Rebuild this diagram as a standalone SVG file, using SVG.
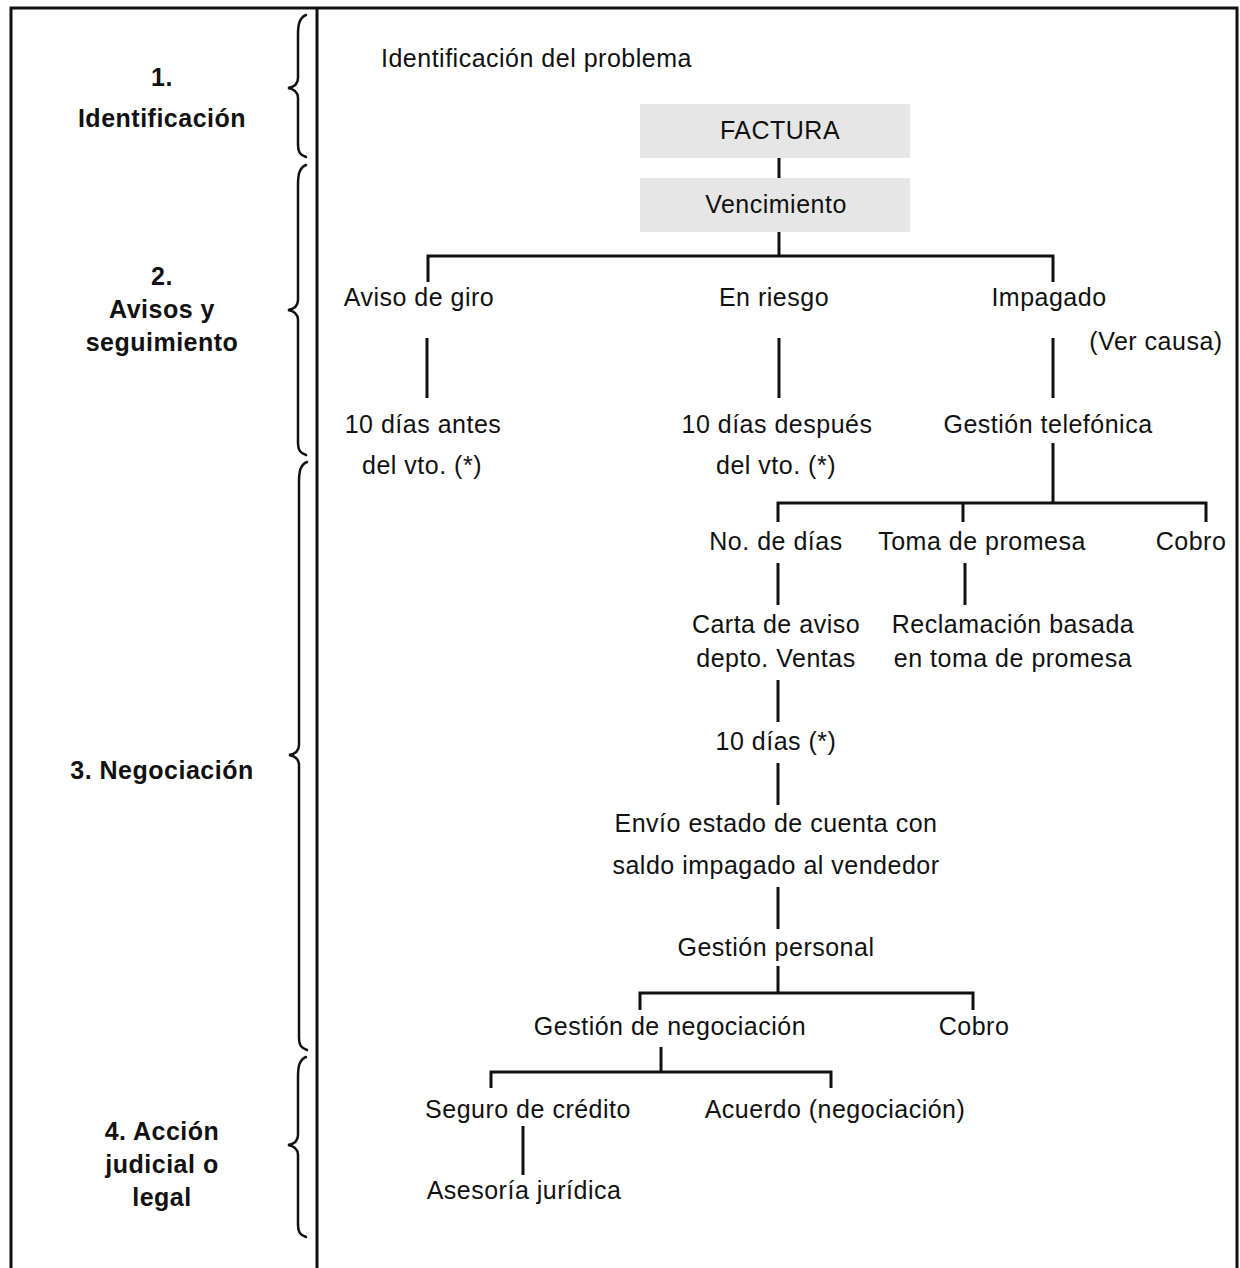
<svg xmlns="http://www.w3.org/2000/svg" width="1240" height="1268" viewBox="0 0 1240 1268">
<style>
.t{font-family:"Liberation Sans",Arial,sans-serif;font-size:25px;letter-spacing:0.5px;fill:#111;text-anchor:middle}
.b{font-family:"Liberation Sans",Arial,sans-serif;font-size:25px;letter-spacing:0.5px;font-weight:bold;fill:#111;text-anchor:middle}
.ln{stroke:#111;stroke-width:3;fill:none}
.br{stroke:#111;stroke-width:2.5;fill:none;stroke-linecap:round}
.box{fill:#e6e6e6}
</style>
<rect width="1240" height="1268" fill="#fff"/>
<g id="frame">
<path class="ln" d="M11,1270 L11,8 L1237,8 L1237,1270"/>
<line class="ln" x1="317" y1="8" x2="317" y2="1270"/>
</g>
<g id="braces">
<path class="br" d="M306,15 C299,18 298,25 298,35 L298,78 C298,84 294,87 288,88 C294,89 298,92 298,98 L298,145 C298,152 300,155 306,157"/>
<path class="br" d="M306,165 C299,168 298,175 298,185 L298,300 C298,306 294,309 288,310 C294,311 298,314 298,320 L298,443 C298,450 300,453 306,455"/>
<path class="br" d="M307,462 C300,465 299,472 299,482 L299,745 C299,751 295,754 289,755 C295,756 299,759 299,765 L299,1038 C299,1045 301,1048 307,1050"/>
<path class="br" d="M306,1057 C299,1060 298,1067 298,1077 L298,1135 C298,1141 294,1144 288,1145 C294,1146 298,1149 298,1155 L298,1225 C298,1232 300,1235 306,1237"/>
</g>
<g id="stage1"><text class="b" x="162" y="86">1.</text><text class="b" x="162" y="127">Identificación</text></g>
<g id="stage2"><text class="b" x="162" y="285">2.</text><text class="b" x="162" y="318">Avisos y</text><text class="b" x="162" y="351">seguimiento</text></g>
<g id="stage3"><text class="b" x="162" y="779">3. Negociación</text></g>
<g id="stage4"><text class="b" x="162" y="1140">4. Acción</text><text class="b" x="162" y="1173">judicial o</text><text class="b" x="162" y="1206">legal</text></g>
<g id="title"><text class="t" x="381" y="67" style="text-anchor:start">Identificación del problema</text></g>
<g id="connectors">
<line class="ln" x1="779" y1="158" x2="779" y2="178"/>
<line class="ln" x1="779" y1="232" x2="779" y2="256"/>
<path class="ln" d="M428,282 L428,256 L1053,256 L1053,282"/>
<line class="ln" x1="427" y1="338" x2="427" y2="398"/>
<line class="ln" x1="779" y1="338" x2="779" y2="398"/>
<line class="ln" x1="1053" y1="338" x2="1053" y2="398"/>
<line class="ln" x1="1053" y1="443" x2="1053" y2="503"/>
<path class="ln" d="M778,522 L778,503 L1206,503 L1206,522"/>
<line class="ln" x1="963" y1="503" x2="963" y2="522"/>
<line class="ln" x1="778" y1="563" x2="778" y2="605"/>
<line class="ln" x1="965" y1="563" x2="965" y2="605"/>
<line class="ln" x1="778" y1="680" x2="778" y2="722"/>
<line class="ln" x1="778" y1="763" x2="778" y2="805"/>
<line class="ln" x1="778" y1="887" x2="778" y2="929"/>
<line class="ln" x1="778" y1="966" x2="778" y2="993"/>
<path class="ln" d="M640,1010 L640,993 L973,993 L973,1010"/>
<line class="ln" x1="661" y1="1047" x2="661" y2="1072"/>
<path class="ln" d="M491,1088 L491,1072 L831,1072 L831,1088"/>
<line class="ln" x1="523" y1="1126" x2="523" y2="1175"/>
</g>
<g id="factura"><rect class="box" x="640" y="104" width="270" height="54"/><text class="t" x="780" y="139">FACTURA</text></g>
<g id="vencimiento"><rect class="box" x="640" y="178" width="270" height="54"/><text class="t" x="776" y="213">Vencimiento</text></g>
<g id="aviso"><text class="t" x="419" y="306">Aviso de giro</text></g>
<g id="riesgo"><text class="t" x="774" y="306">En riesgo</text></g>
<g id="impagado"><text class="t" x="1049" y="306">Impagado</text><text class="t" x="1156" y="350">(Ver causa)</text></g>
<g id="antes"><text class="t" x="423" y="433">10 días antes</text><text class="t" x="422" y="474">del vto. (*)</text></g>
<g id="despues"><text class="t" x="777" y="433">10 días después</text><text class="t" x="776" y="474">del vto. (*)</text></g>
<g id="telefonica"><text class="t" x="1048" y="433">Gestión telefónica</text></g>
<g id="nodias"><text class="t" x="776" y="550">No. de días</text></g>
<g id="promesa"><text class="t" x="982" y="550">Toma de promesa</text></g>
<g id="cobro1"><text class="t" x="1191" y="550">Cobro</text></g>
<g id="carta"><text class="t" x="776" y="633">Carta de aviso</text><text class="t" x="776" y="667">depto. Ventas</text></g>
<g id="reclamacion"><text class="t" x="1013" y="633">Reclamación basada</text><text class="t" x="1013" y="667">en toma de promesa</text></g>
<g id="diez"><text class="t" x="776" y="750">10 días (*)</text></g>
<g id="envio"><text class="t" x="776" y="832">Envío estado de cuenta con</text><text class="t" x="776" y="874">saldo impagado al vendedor</text></g>
<g id="personal"><text class="t" x="776" y="956">Gestión personal</text></g>
<g id="negociacion"><text class="t" x="670" y="1035">Gestión de negociación</text></g>
<g id="cobro2"><text class="t" x="974" y="1035">Cobro</text></g>
<g id="seguro"><text class="t" x="528" y="1118">Seguro de crédito</text></g>
<g id="acuerdo"><text class="t" x="835" y="1118">Acuerdo (negociación)</text></g>
<g id="asesoria"><text class="t" x="524" y="1199">Asesoría jurídica</text></g>
</svg>
